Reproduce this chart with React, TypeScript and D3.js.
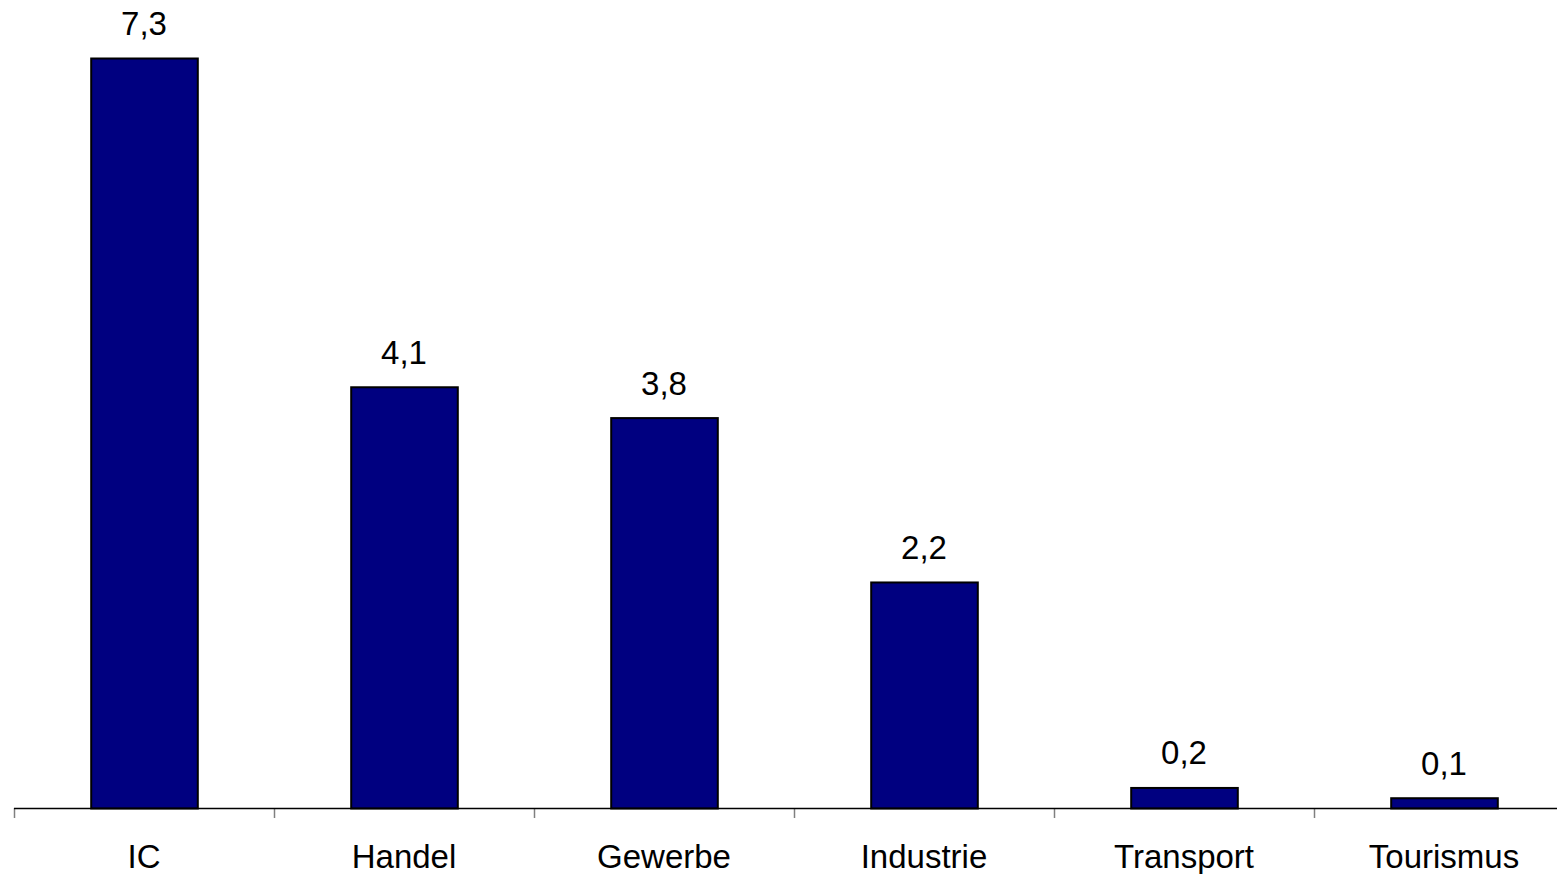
import React from "react";
import * as d3 from "d3";

const categories = ["IC", "Handel", "Gewerbe", "Industrie", "Transport", "Tourismus"];
const values = [7.3, 4.1, 3.8, 2.2, 0.2, 0.1];

const W = 1557;
const H = 874;
const baseY = 808;
const topY = 58;
const xLeft = 14;
const xRight = 1574;

export default function App() {
  const x = d3.scaleBand<string>().domain(categories).range([xLeft, xRight]).paddingInner(0.59).paddingOuter(0.295);
  const y = d3.scaleLinear().domain([0, d3.max(values)!]).range([baseY, topY]);
  const step = x.step();
  const fmt = (v: number) => d3.format(".1f")(v).replace(".", ",");
  const font = "'Liberation Sans', Arial, sans-serif";

  return (
    <svg width={W} height={H} style={{ position: "absolute", left: 0, top: 0, background: "#fff" }}>
      {categories.map((c, i) => (
        <g key={c}>
          <rect
            x={x(c)! + 0.5}
            y={y(values[i]) + 0.5}
            width={x.bandwidth()}
            height={baseY - y(values[i])}
            fill="#000080"
            stroke="#000"
            strokeWidth={2}
          />
          <text
            x={x(c)! + x.bandwidth() / 2}
            y={y(values[i]) - 23}
            textAnchor="middle"
            fontFamily={font}
            fontSize={33}
            fill="#000"
          >
            {fmt(values[i])}
          </text>
          <text
            x={x(c)! + x.bandwidth() / 2}
            y={868}
            textAnchor="middle"
            fontFamily={font}
            fontSize={33}
            fill="#000"
          >
            {c}
          </text>
        </g>
      ))}
      {d3.range(categories.length + 1).map((i) => (
        <line
          key={i}
          x1={xLeft + i * step + 0.5}
          x2={xLeft + i * step + 0.5}
          y1={baseY}
          y2={baseY + 10}
          stroke="#808080"
          strokeWidth={1.5}
        />
      ))}
      <line x1={xLeft} x2={W} y1={baseY + 0.5} y2={baseY + 0.5} stroke="#000" strokeWidth={1.5} />
    </svg>
  );
}
